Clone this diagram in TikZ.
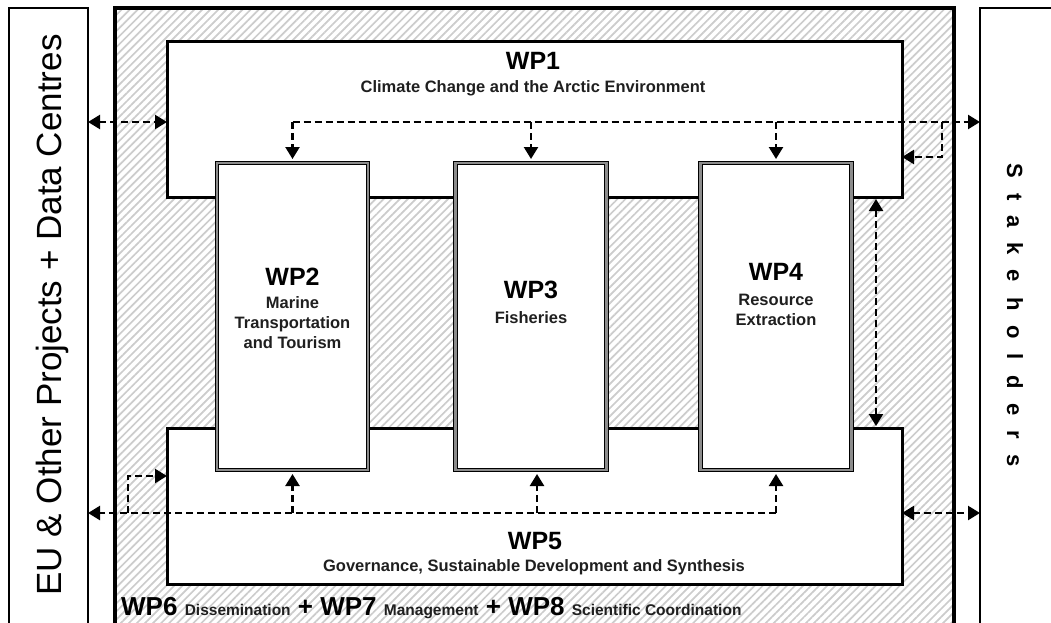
\documentclass[tikz,border=0pt]{standalone}
\usepackage{fontspec}
\setmainfont{Liberation Sans}
\usetikzlibrary{patterns.meta,arrows.meta,calc}
\begin{document}
\begin{tikzpicture}[x=1pt,y=-1pt,
  sidebox/.style={draw=black, line width=2pt, fill=white, inner sep=0pt, outer sep=0pt, anchor=north west},
  mainbox/.style={draw=black, line width=3.5pt, inner sep=0pt, outer sep=0pt, anchor=north west,
     pattern={Lines[angle=45,distance=5.7pt,line width=1.7pt]}, pattern color=black!20},
  frame/.style={draw=black, line width=3pt, fill=white, inner sep=0pt, outer sep=0pt, anchor=north west},
  wpbox/.style={draw=black, line width=1pt, double=black!45, double distance=2.5pt, fill=white,
     inner sep=0pt, outer sep=0pt, anchor=north west, minimum width=151pt, minimum height=307pt},
  tip/.tip={Triangle[length=12pt,width=14pt]},
  link/.style={line width=2.3pt, dash pattern=on 7pt off 4pt, -tip},
  both/.style={line width=2.3pt, dash pattern=on 7pt off 4pt, tip-tip},
  wptitle/.style={font=\bfseries\fontsize{25}{25}\selectfont, inner sep=0pt},
  wpsub/.style={font=\bfseries\fontsize{16.5}{20}\selectfont, text=black!88, align=center, inner sep=0pt},
]
\useasboundingbox (0,0) rectangle (1051,623);
\clip (0,0) rectangle (1051,623);
\fill[white] (0,0) rectangle (1051,623);

% side boxes and main hatched area
\node[sidebox, minimum width=79pt, minimum height=660pt] (eu) at (9,8) {};
\node[sidebox, minimum width=120pt, minimum height=660pt] (stake) at (980,8) {};
\node[mainbox, minimum width=839pt, minimum height=660pt] (main) at (115,8) {};

% WP1 and WP5
\node[frame, minimum width=735pt, minimum height=155pt] (wp1) at (167,42) {};
\node[frame, minimum width=735pt, minimum height=156pt] (wp5) at (167,428) {};

% WP2-WP4
\node[wpbox] (wp2) at (217,163) {};
\node[wpbox] (wp3) at (455.5,163) {};
\node[wpbox] (wp4) at (700.5,163) {};

% texts
\node[wptitle] (t1) at (533,61) {WP1};
\node[wpsub] (s1) at (533,88) {Climate Change and the Arctic Environment};
\node[wptitle] (t2) at (292.5,277) {WP2};
\node[wpsub] (s2) at (292.5,323) {Marine\\Transportation\\and Tourism};
\node[wptitle] (t3) at (531,290) {WP3};
\node[wpsub] (s3) at (531,318) {Fisheries};
\node[wptitle] (t4) at (776,272) {WP4};
\node[wpsub] (s4) at (776,310) {Resource\\Extraction};
\node[wptitle] (t5) at (535,541) {WP5};
\node[wpsub] (s5) at (534,567) {Governance, Sustainable Development and Synthesis};

\node[anchor=base west, inner sep=0pt, font=\bfseries] (bottom) at (121,615)
  {\fontsize{26}{26}\selectfont WP6 {\fontsize{15.5}{16}\selectfont\color{black!88}Dissemination} + WP7 {\fontsize{15.5}{16}\selectfont\color{black!88}Management} + WP8 {\fontsize{15.5}{16}\selectfont\color{black!88}Scientific Coordination}};

\node[rotate=90, anchor=base, inner sep=0pt, font=\fontsize{35}{35}\selectfont] (eut) at (61,315)
  {EU \& Other Projects + Data Centres};
\node[rotate=-90, anchor=base, inner sep=0pt, font=\bfseries\fontsize{22}{22}\selectfont] (stt) at (1007,315)
  {\spaceskip=15pt\relax S t a k e h o l d e r s};

% connectors
\coordinate (busT) at (0,122);
\coordinate (busB) at (0,513);
\coordinate (loopT) at (942,157);
\coordinate (loopB) at (128,476);
\coordinate (vx) at (876,0);
\coordinate (b3) at (537,0);

\draw[both] (eu.east |- busT) -- (wp1.west |- busT);
\draw[link] (wp2.north |- busT) -- (stake.west |- busT);
\foreach \w in {wp2,wp3,wp4}
  \draw[link, shorten >=4pt] (\w.north |- busT) -- (\w.north);
\draw[link] (loopT |- busT) -- (loopT) -- (wp1.east |- loopT);

\draw[both, shorten <=2pt, shorten >=2pt] (vx |- wp1.south) -- (vx |- wp5.north);

\draw[link] (wp4.south |- busB) -- (eu.east |- busB);
\draw[link, shorten >=4pt] (wp2.south |- busB) -- (wp2.south);
\draw[link, shorten >=4pt] (b3 |- busB) -- (b3 |- wp3.south);
\draw[link, shorten >=4pt] (wp4.south |- busB) -- (wp4.south);
\draw[link] (loopB |- busB) -- (loopB) -- (wp5.west |- loopB);
\draw[both] (wp5.east |- busB) -- (stake.west |- busB);
\end{tikzpicture}
\end{document}
